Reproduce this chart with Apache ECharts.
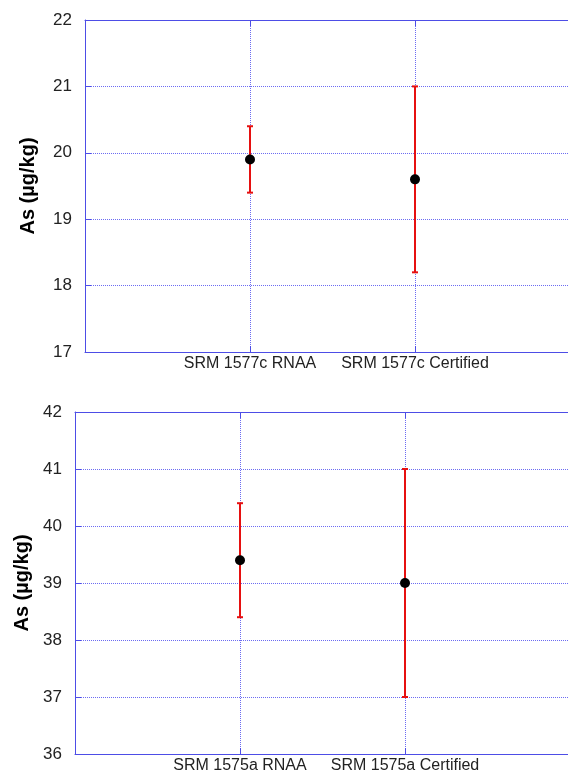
<!DOCTYPE html>
<html>
<head>
<meta charset="utf-8">
<script src="https://cdn.jsdelivr.net/npm/echarts@6/dist/echarts.min.js"></script>
<style>
html,body{margin:0;padding:0;background:#fff;}
#chart{width:568px;height:779px;}
</style>
</head>
<body>
<div id="chart"></div>
<script>
// ---- data ----
const topCategories = ['SRM 1577c RNAA', 'SRM 1577c Certified'];
const topValues = [19.9, 19.6];
const topLow = [19.4, 18.2];
const topHigh = [20.4, 21.0];
const topYTicks = [17, 18, 19, 20, 21, 22];

const botCategories = ['SRM 1575a RNAA', 'SRM 1575a Certified'];
const botValues = [39.4, 39.0];
const botLow = [38.4, 37.0];
const botHigh = [40.4, 41.0];
const botYTicks = [36, 37, 38, 39, 40, 41, 42];

const yName = 'As (\u00b5g/kg)';

// ---- styles ----
const AXIS = '#4d4de6';
const GRIDC = '#6c6cf2';
const ERR = '#e61010';
const FONT = 'Liberation Sans, Arial, Helvetica, sans-serif';

function xAxes(gridIndex, cats) {
  const n = cats.length;
  const bottom = {
    type: 'value', gridIndex: gridIndex, position: 'bottom',
    min: 0, max: n + 1, interval: 1,
    axisLine: {show: true, lineStyle: {color: AXIS, width: 1}},
    axisTick: {show: true, inside: true, length: 6, lineStyle: {color: AXIS, width: 1}},
    axisLabel: {
      show: true, margin: 4, color: '#222', fontSize: 16, fontFamily: FONT,
      formatter: function (v) { const i = Math.round(v) - 1; return (i >= 0 && i < n) ? cats[i] : ''; }
    },
    splitLine: {show: true, lineStyle: {color: GRIDC, type: [1, 1], width: 1}}
  };
  const top = {
    type: 'value', gridIndex: gridIndex, position: 'top',
    min: 0, max: n + 1, interval: 1,
    axisLine: {show: true, lineStyle: {color: AXIS, width: 1}},
    axisTick: {show: true, inside: true, length: 6, lineStyle: {color: AXIS, width: 1}},
    axisLabel: {show: false},
    splitLine: {show: false}
  };
  return [bottom, top];
}

function yAxis(gridIndex, ticks, gap) {
  return {
    type: 'value', gridIndex: gridIndex,
    min: ticks[0], max: ticks[ticks.length - 1], interval: ticks[1] - ticks[0],
    name: yName, nameLocation: 'middle', nameGap: gap,
    nameTextStyle: {color: '#000', fontSize: 20, fontWeight: 'bold', fontFamily: FONT},
    axisLine: {show: true, lineStyle: {color: AXIS, width: 1}},
    axisTick: {show: true, inside: true, length: 6, lineStyle: {color: AXIS, width: 1}},
    axisLabel: {show: true, margin: 13, color: '#222', fontSize: 17, fontFamily: FONT},
    splitLine: {show: true, lineStyle: {color: GRIDC, type: [1, 1], width: 1}}
  };
}

function errRender(params, api) {
  const x = api.value(0), lo = api.value(1), hi = api.value(2);
  const a = api.coord([x, lo]), b = api.coord([x, hi]);
  const hw = 3;
  const st = {stroke: ERR, lineWidth: 2};
  return {
    type: 'group', children: [
      {type: 'line', shape: {x1: a[0], y1: a[1], x2: b[0], y2: b[1]}, style: st},
      {type: 'line', shape: {x1: a[0] - hw, y1: a[1], x2: a[0] + hw, y2: a[1]}, style: st},
      {type: 'line', shape: {x1: b[0] - hw, y1: b[1], x2: b[0] + hw, y2: b[1]}, style: st}
    ]
  };
}

function series(gridIdx, values, low, high) {
  const xIdx = gridIdx * 2;
  return [
    {
      type: 'custom', xAxisIndex: xIdx, yAxisIndex: gridIdx,
      renderItem: errRender, silent: true, z: 3,
      data: values.map((v, i) => [i + 1, low[i], high[i]])
    },
    {
      type: 'scatter', xAxisIndex: xIdx, yAxisIndex: gridIdx,
      symbol: 'circle', symbolSize: 10, silent: true, z: 4,
      itemStyle: {color: '#000', opacity: 1},
      data: values.map((v, i) => [i + 1, v])
    }
  ];
}

const chart = echarts.init(document.getElementById('chart'), null, {renderer: 'canvas'});
chart.setOption({
  animation: false,
  backgroundColor: '#fff',
  grid: [
    {left: 85, top: 20, width: 495, height: 332, containLabel: false, outerBoundsMode: 'none'},
    {left: 75, top: 412, width: 495, height: 342, containLabel: false, outerBoundsMode: 'none'}
  ],
  xAxis: [].concat(xAxes(0, topCategories), xAxes(1, botCategories)),
  yAxis: [yAxis(0, topYTicks, 47), yAxis(1, botYTicks, 42)],
  series: [].concat(series(0, topValues, topLow, topHigh), series(1, botValues, botLow, botHigh))
});
</script>
</body>
</html>
